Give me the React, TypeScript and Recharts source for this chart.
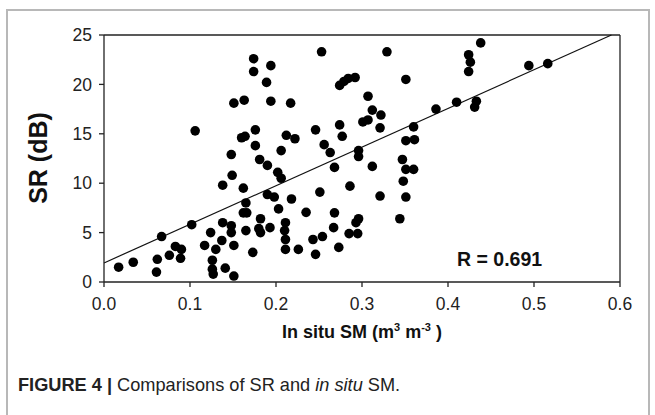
import { ScatterChart, Scatter, XAxis, YAxis, ReferenceLine, Label } from "recharts";

// In situ soil moisture (m3 m-3) and SR (dB)
const insituSM = [
  0.017, 0.034, 0.062, 0.061, 0.067, 0.076, 0.083, 0.09, 0.089, 0.102,
  0.106, 0.117, 0.124, 0.13, 0.126, 0.126, 0.127, 0.138, 0.137, 0.141,
  0.148, 0.148, 0.151, 0.151, 0.138, 0.149, 0.148, 0.162, 0.165, 0.162,
  0.166, 0.165, 0.173, 0.151, 0.163, 0.16, 0.164, 0.174, 0.174, 0.194,
  0.189, 0.194, 0.217, 0.176, 0.176, 0.181, 0.19, 0.202, 0.206, 0.206,
  0.212, 0.222, 0.19, 0.198, 0.218, 0.203, 0.182, 0.18, 0.182, 0.193,
  0.211, 0.21, 0.211, 0.211, 0.226, 0.246, 0.243, 0.254, 0.235, 0.251,
  0.263, 0.256, 0.246, 0.253, 0.274, 0.277, 0.268, 0.268, 0.267, 0.273,
  0.286, 0.285, 0.295, 0.293, 0.296, 0.296, 0.296, 0.274, 0.279, 0.284,
  0.292, 0.329, 0.307, 0.312, 0.307, 0.301, 0.322, 0.321, 0.312, 0.321,
  0.351, 0.347, 0.351, 0.36, 0.348, 0.351, 0.344, 0.36, 0.351, 0.361,
  0.386, 0.41, 0.433, 0.431, 0.438, 0.424, 0.426, 0.424, 0.494, 0.516,
];
const srDb = [
  1.5, 2.0, 2.3, 1.0, 4.6, 2.7, 3.6, 3.3, 2.4, 5.8,
  15.3, 3.7, 5.0, 3.3, 2.2, 1.3, 0.8, 6.0, 4.2, 1.4,
  5.7, 5.0, 3.7, 0.6, 9.8, 10.8, 12.9, 9.5, 8.0, 7.0,
  7.0, 5.2, 3.0, 18.1, 18.4, 14.6, 14.75, 22.6, 21.3, 21.9,
  20.2, 18.3, 18.1, 15.4, 13.8, 12.4, 11.8, 11.1, 10.5, 13.3,
  14.85, 14.5, 8.85, 8.6, 8.4, 7.4, 6.4, 5.4, 5.0, 5.5,
  6.0, 5.2, 4.3, 3.3, 3.3, 2.8, 4.3, 4.6, 7.05, 9.1,
  13.1, 13.9, 15.4, 23.3, 15.9, 14.75, 11.6, 7.0, 5.5, 3.5,
  9.7, 4.9, 4.9, 6.0, 6.4, 12.7, 13.3, 19.9, 20.3, 20.6,
  20.7, 23.3, 18.8, 17.4, 16.4, 16.2, 16.9, 15.6, 11.7, 8.7,
  20.5, 12.4, 11.4, 11.4, 10.2, 8.6, 6.4, 15.7, 14.3, 14.4,
  17.5, 18.2, 18.3, 17.7, 24.2, 23.0, 22.25, 21.3, 21.9, 22.1,
];

// regression line end points
const fitX = [0, 0.59];
const fitY = [1.93, 25];

const xTicks = [0, 0.1, 0.2, 0.3, 0.4, 0.5, 0.6];
const yTicks = [0, 5, 10, 15, 20, 25];

const points = insituSM.map((x, i) => ({ x, y: srDb[i] }));

const font = "'Liberation Sans', Arial, sans-serif";
const tickStyle = { fontSize: 17.5, fill: "#222", fontFamily: font };

const Dot = (props: any) => <circle cx={props.cx} cy={props.cy} r={4.8} fill="#000" />;

export default function App() {
  return (
    <div
      style={{
        position: "absolute",
        left: 0,
        top: 0,
        width: 655,
        height: 415,
        background: "#fff",
        overflow: "hidden",
        fontFamily: font,
      }}
    >
      {/* outer figure frame */}
      <div
        style={{
          position: "absolute",
          left: 6,
          top: 9,
          width: 640,
          height: 420,
          border: "2px solid #b8b8b8",
          borderBottom: "none",
        }}
      />
      <ScatterChart
        width={655}
        height={415}
        margin={{ top: 35, right: 35, bottom: 103, left: 44 }}
        style={{ position: "absolute", left: 0, top: 0 }}
      >
        <XAxis
          type="number"
          dataKey="x"
          domain={[0, 0.6]}
          ticks={xTicks}
          tickFormatter={(v: number) => v.toFixed(1)}
          tick={tickStyle}
          tickSize={5}
          tickMargin={11}
          axisLine={{ stroke: "#222", strokeWidth: 1.3 }}
          tickLine={{ stroke: "#222", strokeWidth: 1.3 }}
          height={30}
          allowDataOverflow
        >
          <Label
            content={() => (
              <text
                x={362}
                y={338}
                textAnchor="middle"
                fontFamily={font}
                fontWeight="bold"
                fontSize={18}
                fill="#111"
              >
                In situ SM (m
                <tspan dy={-7} fontSize={11}>3</tspan>
                <tspan dy={7}> m</tspan>
                <tspan dy={-7} fontSize={11}>-3</tspan>
                <tspan dy={7}>{"  )"}</tspan>
              </text>
            )}
          />
        </XAxis>
        <YAxis
          type="number"
          dataKey="y"
          domain={[0, 25]}
          ticks={yTicks}
          tick={tickStyle}
          tickSize={5}
          tickMargin={7}
          axisLine={{ stroke: "#222", strokeWidth: 1.3 }}
          tickLine={{ stroke: "#222", strokeWidth: 1.3 }}
          width={60}
          allowDataOverflow
        >
          <Label
            content={() => (
              <text
                x={38}
                y={158}
                transform="rotate(-90 38 158)"
                textAnchor="middle"
                dominantBaseline="central"
                fontFamily={font}
                fontWeight="bold"
                fontSize={25}
                fill="#111"
              >
                SR (dB)
              </text>
            )}
          />
        </YAxis>
        <ReferenceLine y={25} stroke="#222" strokeWidth={1.3} />
        <ReferenceLine x={0.6} stroke="#222" strokeWidth={1.3} />
        <ReferenceLine
          segment={[
            { x: fitX[0], y: fitY[0] },
            { x: fitX[1], y: fitY[1] },
          ]}
          stroke="#111"
          strokeWidth={1.2}
        />
        <Scatter data={points} fill="#000" shape={Dot} isAnimationActive={false} />
      </ScatterChart>
      <div
        style={{
          position: "absolute",
          left: 457,
          top: 248,
          fontSize: 19.5,
          fontWeight: "bold",
          color: "#111",
        }}
      >
        R = 0.691
      </div>
      <div
        style={{
          position: "absolute",
          left: 18,
          top: 375,
          fontSize: 18.2,
          color: "#222",
          whiteSpace: "nowrap",
        }}
      >
        <b>FIGURE 4 |</b> Comparisons of SR and <i>in situ</i> SM.
      </div>
    </div>
  );
}
